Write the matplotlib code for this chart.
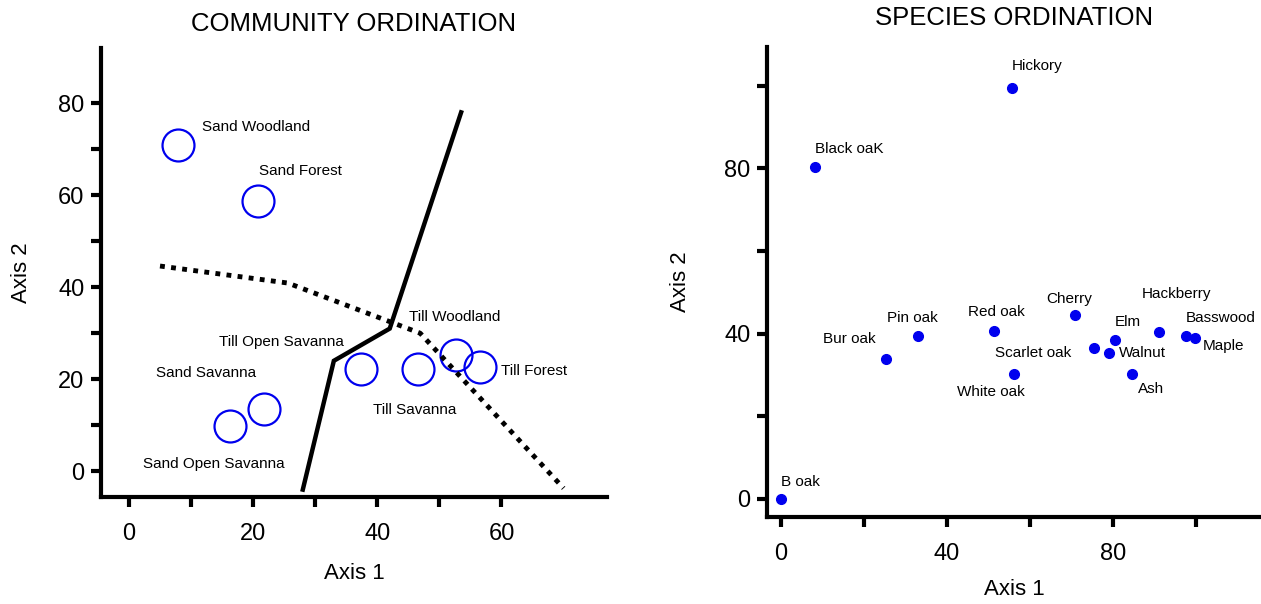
import numpy as np
import matplotlib.pyplot as plt

plt.rcParams['font.family'] = ['Liberation Sans', 'DejaVu Sans']

# community ordination
comm_x = [7.9, 20.8, 21.8, 16.3, 37.4, 46.5, 52.6, 56.5]
comm_y = [70.9, 58.7, 13.5, 9.8, 22.2, 22.2, 25.2, 22.6]

comm_names = ["Sand Woodland", "Sand Forest", "Till Woodland", "Till Open Savanna",
              "Sand Savanna", "Till Forest", "Till Savanna", "Sand Open Savanna"]
comm_lx = [20.5, 27.6, 52.4, 24.5, 12.4, 65.2, 46.1, 13.7]
comm_ly = [74.8, 65.2, 33.5, 28.0, 21.3, 21.7, 13.3, 1.5]

solid_x = [28.0, 33.0, 42.0, 53.5]
solid_y = [-4.0, 24.0, 31.0, 78.0]
dot_x = [5.0, 25.6, 46.9, 70.0]
dot_y = [44.6, 40.9, 30.0, -3.7]

# species ordination
sp_names = ["Hickory", "Black oaK", "B oak", "Bur oak", "Pin oak", "Red oak", "Cherry",
            "Scarlet oak", "White oak", "Elm", "Walnut", "Ash", "Hackberry", "Basswood", "Maple"]
sp_x = [55.6, 8.2, 0, 25.3, 33.0, 51.4, 70.8, 75.5, 56.1, 80.5, 79.0, 84.6, 91.1, 97.5, 99.9]
sp_y = [99.5, 80.3, 0, 33.9, 39.4, 40.7, 44.5, 36.6, 30.3, 38.5, 35.2, 30.3, 40.3, 39.5, 39.0]
sp_lx = [61.7, 16.5, 4.6, 16.5, 31.6, 51.9, 69.4, 60.7, 50.5, 83.6, 87.2, 89.1, 95.3, 106.0, 106.6]
sp_ly = [104.9, 84.6, 4.2, 38.8, 43.7, 45.2, 48.3, 35.4, 25.8, 42.9, 35.4, 26.7, 49.6, 43.7, 36.9]


def style_axes(ax):
    for s in ["top", "right"]:
        ax.spines[s].set_visible(False)
    for s in ["left", "bottom"]:
        ax.spines[s].set_linewidth(3)
    ax.tick_params(which="both", direction="out", width=3, labelsize=17)
    ax.tick_params(which="major", length=7)
    ax.tick_params(which="minor", length=7)
    ax.tick_params(axis="x", pad=12)
    ax.tick_params(axis="y", pad=5)


fig = plt.figure(figsize=(12.61, 6.04), dpi=100)

ax1 = fig.add_axes([0.0801, 0.1772, 0.4013, 0.7434])
ax1.plot(comm_x, comm_y, "o", ms=23, mfc="none", mec="#0000ee", mew=1.6)
ax1.plot(solid_x, solid_y, color="black", lw=3.2, solid_joinstyle="miter")
ax1.plot(dot_x, dot_y, color="black", lw=3.5, linestyle=(0, (1, 1.3)))
for n, x, y in zip(comm_names, comm_lx, comm_ly):
    ax1.text(x, y, n, fontsize=11, ha="center", va="center")
ax1.set_xlim(-4.5, 77)
ax1.set_ylim(-5.6, 92)
ax1.set_xticks([0, 20, 40, 60])
ax1.set_xticks([10, 30, 50], minor=True)
ax1.set_yticks([0, 20, 40, 60, 80])
ax1.set_yticks([10, 30, 50, 70], minor=True)
style_axes(ax1)
ax1.set_title("COMMUNITY ORDINATION", fontsize=18.5, pad=12)
ax1.set_xlabel("Axis 1", fontsize=16, labelpad=13)
ax1.set_ylabel("Axis 2", fontsize=16, labelpad=19)

ax2 = fig.add_axes([0.6082, 0.1440, 0.3918, 0.7782])
ax2.plot(sp_x, sp_y, "o", ms=7, color="#0000ee")
for n, x, y in zip(sp_names, sp_lx, sp_ly):
    ax2.text(x, y, n, fontsize=11, ha="center", va="center")
ax2.set_xlim(-3.4, 115.7)
ax2.set_ylim(-4.4, 109.4)
ax2.set_xticks([0, 40, 80])
ax2.set_xticks([20, 60, 100], minor=True)
ax2.set_yticks([0, 40, 80])
ax2.set_yticks([20, 60, 100], minor=True)
style_axes(ax2)
ax2.set_title("SPECIES ORDINATION", fontsize=18.5, pad=16)
ax2.set_xlabel("Axis 1", fontsize=16, labelpad=10)
ax2.set_ylabel("Axis 2", fontsize=16, labelpad=24)

fig.savefig("out.png", dpi=100)
